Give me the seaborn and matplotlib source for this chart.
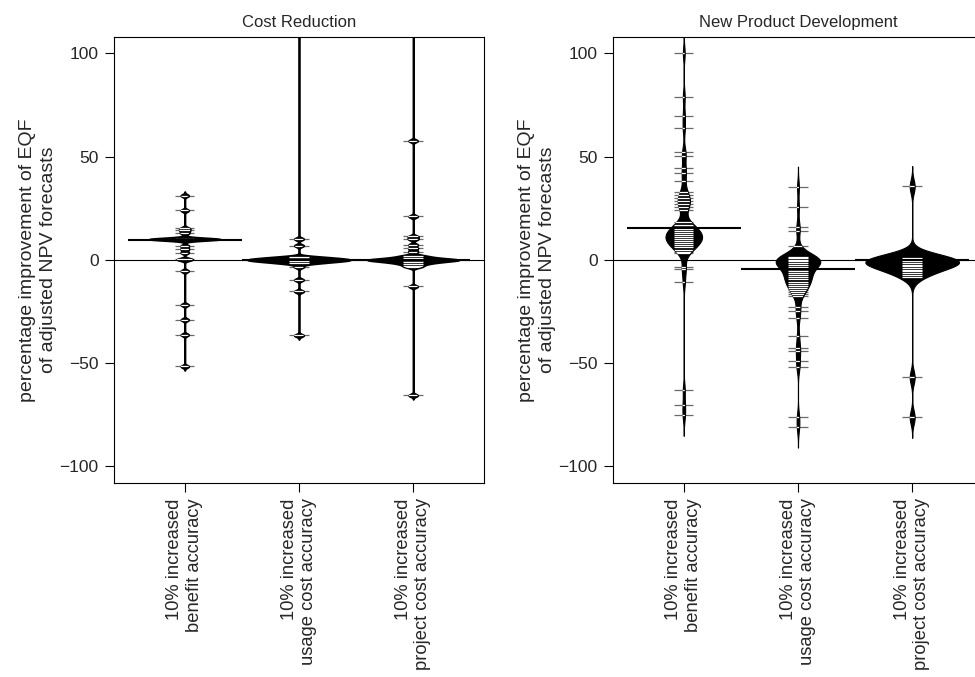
import numpy as np
import pandas as pd
import matplotlib
matplotlib.use("Agg")
import matplotlib.pyplot as plt
import seaborn as sns
from matplotlib.collections import LineCollection

# ---------------- data ----------------
categories = ["10% increased\nbenefit accuracy",
              "10% increased\nusage cost accuracy",
              "10% increased\nproject cost accuracy"]
panel_titles = ["Cost Reduction", "New Product Development"]
y_label = "percentage improvement of EQF\nof adjusted NPV forecasts"
y_ticks = [-100, -50, 0, 50, 100]

# Cost Reduction
cr_benefit_values = [31.1, 23.9, 15.3, 14.2, 12.9, 10.0, 6.8, 5.2, 3.5, 0.2, -5.4, -21.8, -29.0, -36.3, -51.6]
cr_benefit_counts = [1, 1, 1, 1, 1, 9, 1, 1, 1, 2, 1, 1, 1, 1, 1]
cr_usage_values = [150.0, 10.1, 6.9, 1.3, 0.3, -0.6, -1.6, -3.4, -9.7, -15.3, -36.6]
cr_usage_counts = [1, 1, 1, 4, 7, 6, 3, 1, 1, 1, 1]
cr_project_values = [140.0, 57.6, 21.0, 11.3, 10.0, 7.3, 5.6, 4.0, 2.0, 1.0, 0.0, -1.0, -2.0, -3.0, -3.5, -12.9, -65.6]
cr_project_counts = [1, 1, 1, 1, 1, 1, 1, 1, 2, 3, 8, 4, 2, 1, 1, 1, 1]
cr_average = [9.7, 0.0, 0.0]

# New Product Development
npd_benefit_values = [100.0, 79.0, 69.8, 63.7, 52.1, 50.3, 44.4, 41.9, 38.2,
                      32.9, 31.5, 30.0, 28.5, 27.0, 25.5, 24.2,
                      18.5, 17.0, 16.0, 15.0, 14.0, 13.0, 12.0, 11.0, 10.0, 9.0, 8.0, 7.0, 6.0, 5.0, 4.0,
                      3.2, -3.7, -4.5, -10.8, -62.9, -70.2, -75.3]
npd_benefit_counts = [1, 1, 1, 1, 1, 1, 1, 1, 1,
                      1, 1, 2, 1, 2, 1, 1,
                      1, 2, 2, 2, 2, 3, 3, 3, 3, 3, 2, 2, 2, 1, 1,
                      1, 1, 1, 1, 1, 1, 1]
npd_usage_values = [35.2, 25.5, 16.1, 14.0, 6.5,
                    1.6, 0.8, 0.0, -0.8, -1.6, -2.5, -3.5, -4.5, -5.5, -6.5, -7.5, -8.5, -9.5,
                    -10.5, -11.5, -12.5, -13.5, -14.5, -15.5, -16.5, -17.5,
                    -22.6, -24.7, -28.2, -37.1, -42.7, -43.9, -48.9, -52.1, -76.1, -81.0]
npd_usage_counts = [1, 1, 1, 1, 1,
                    3, 4, 7, 5, 3, 1, 1, 2, 2, 2, 2, 2, 2,
                    2, 2, 1, 2, 1, 1, 1, 1,
                    1, 1, 1, 1, 1, 1, 1, 1, 1, 1]
npd_project_values = [35.5, 0.8, 0.0, -0.8, -1.6, -2.4, -3.2, -4.0, -4.8, -5.6, -6.4, -7.2, -8.1, -56.9, -76.3]
npd_project_counts = [1, 2, 9, 2, 2, 2, 1, 1, 1, 1, 1, 1, 1, 1, 1]
npd_average = [15.5, -4.4, 0.0]

panels = [
    dict(title=panel_titles[0],
         groups=[(cr_benefit_values, cr_benefit_counts),
                 (cr_usage_values, cr_usage_counts),
                 (cr_project_values, cr_project_counts)],
         average=cr_average, widths=[0.62, 0.9, 0.8], bw=0.65, lw=1.3),
    dict(title=panel_titles[1],
         groups=[(npd_benefit_values, npd_benefit_counts),
                 (npd_usage_values, npd_usage_counts),
                 (npd_project_values, npd_project_counts)],
         average=npd_average, widths=[0.32, 0.39, 0.82], bw=3.3, lw=0.8),
]

# ---------------- styling ----------------
sns.set_theme(style="ticks")
plt.rcParams["font.family"] = ["Liberation Sans", "DejaVu Sans"]
plt.rcParams["axes.linewidth"] = 0.8

fig = plt.figure(figsize=(9.75, 6.77), dpi=100)
ax_positions = [[0.1169, 0.2866, 0.3795, 0.6592], [0.6287, 0.2866, 0.3795, 0.6592]]

for pos, p in zip(ax_positions, panels):
    ax = fig.add_axes(pos)
    frames = [pd.DataFrame({"group": cat, "value": np.repeat(np.array(v, float), c)})
              for cat, (v, c) in zip(categories, p["groups"])]
    df = pd.concat(frames, ignore_index=True)

    ax.axhline(0, color="black", lw=0.8, zorder=0.5)

    for i, (cat, w) in enumerate(zip(categories, p["widths"])):
        sub = df[df["group"] == cat]
        factor = p["bw"] / sub["value"].std()
        n_before = len(ax.collections)
        sns.violinplot(data=sub, x="group", y="value", order=categories, ax=ax,
                       inner=None, color="black", linecolor="black", linewidth=p["lw"],
                       width=w, bw_method=factor, cut=3, gridsize=4000,
                       density_norm="width", saturation=1)
        violin = ax.collections[n_before]
        violin.set_zorder(1)
        vals = np.unique(sub["value"].to_numpy())
        segs = [[(i - 0.085, y), (i + 0.085, y)] for y in vals]
        gray = LineCollection(segs, colors="#6a6a6a", linewidths=0.9, zorder=0.8)
        ax.add_collection(gray)
        white = LineCollection(segs, colors="white", linewidths=0.9, zorder=2)
        ax.add_collection(white)
        white.set_clip_path(violin.get_paths()[0], violin.get_transform())

    avg_segs = [[(i - 0.5, m), (i + 0.5, m)] for i, m in enumerate(p["average"])]
    ax.add_collection(LineCollection(avg_segs, colors="black", linewidths=1.5, zorder=3))

    ax.set_xlim(-0.62, 2.62)
    ax.set_ylim(-108, 108)
    ax.set_yticks(y_ticks)
    ax.set_xticks(range(len(categories)))
    ax.set_xticklabels(categories, rotation=90, va="top", ha="center",
                       multialignment="right", fontsize=13.2)
    ax.tick_params(axis="both", length=6.5, width=0.8, pad=4.5, color="black")
    ax.tick_params(axis="y", labelsize=12.5)
    ax.set_xlabel("")
    ax.set_ylabel(y_label, fontsize=14, labelpad=2, linespacing=1.3)
    ax.set_title(p["title"], fontsize=12, pad=7)
    for s in ax.spines.values():
        s.set_visible(True)
        s.set_color("black")
        s.set_linewidth(0.8)

fig.savefig("out.png", dpi=100)
